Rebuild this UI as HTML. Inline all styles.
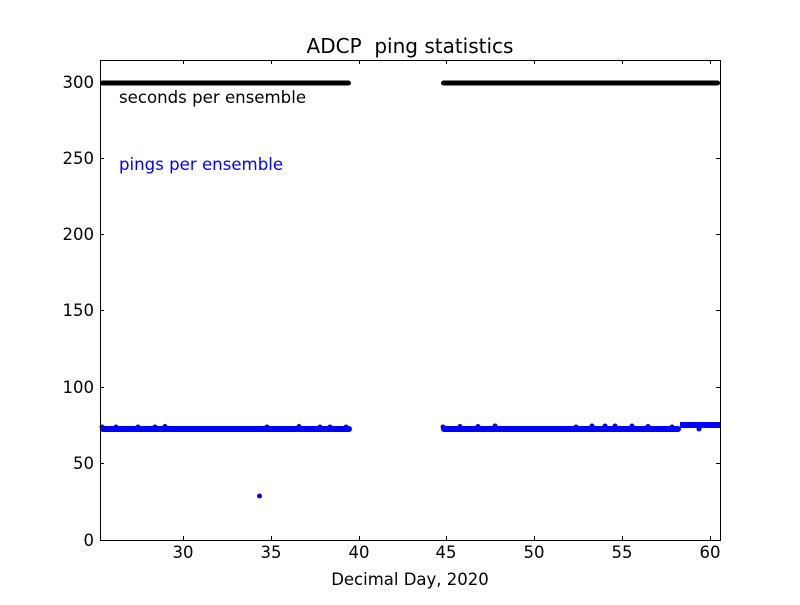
<!DOCTYPE html>
<html><head><style>body{margin:0;background:#fff}</style></head><body>
<svg width="800" height="600" xmlns="http://www.w3.org/2000/svg" font-family="DejaVu Sans, sans-serif">
<rect width="800" height="600" fill="#fff"/>
<g fill="#000">
<rect x="100" y="80.5" width="251" height="5" rx="2.5"/>
<rect x="441" y="80.5" width="279" height="5" rx="2.5"/>
</g>
<g fill="#00f">
<rect x="100" y="426" width="252" height="6" rx="3"/>
<rect x="441" y="426" width="240" height="6" rx="3"/>
<rect x="680" y="422" width="40" height="6"/>
<circle cx="259.5" cy="496" r="2.5"/>
<circle cx="102" cy="427" r="2.5"/><circle cx="116" cy="427" r="2.5"/><circle cx="138" cy="427" r="2.5"/><circle cx="155" cy="427" r="2.5"/><circle cx="165" cy="426.5" r="2.5"/><circle cx="267" cy="427" r="2.5"/><circle cx="299" cy="426.5" r="2.5"/><circle cx="320" cy="427" r="2.5"/><circle cx="330" cy="427" r="2.5"/><circle cx="346" cy="427" r="2.5"/>
<circle cx="443" cy="427" r="2.5"/><circle cx="460" cy="426.5" r="2.5"/><circle cx="478" cy="426.5" r="2.5"/><circle cx="495" cy="426" r="2.5"/><circle cx="576" cy="427" r="2.5"/><circle cx="592" cy="426" r="2.5"/><circle cx="605" cy="426" r="2.5"/><circle cx="615" cy="426" r="2.5"/><circle cx="632" cy="426" r="2.5"/><circle cx="648" cy="426.5" r="2.5"/><circle cx="672" cy="427" r="2.5"/><circle cx="699" cy="429" r="2.5"/>
</g>
<rect x="100.5" y="60.5" width="620" height="480" fill="none" stroke="#000" stroke-width="1"/>
<g stroke="#000" stroke-width="1">
<path d="M183.5 540v-4M183.5 60v4M271.5 540v-4M271.5 60v4M359.5 540v-4M359.5 60v4M446.5 540v-4M446.5 60v4M534.5 540v-4M534.5 60v4M622.5 540v-4M622.5 60v4M710.5 540v-4M710.5 60v4"/>
<path d="M100 540.5h4M720 540.5h-4M100 463.5h4M720 463.5h-4M100 387.5h4M720 387.5h-4M100 310.5h4M720 310.5h-4M100 234.5h4M720 234.5h-4M100 158.5h4M720 158.5h-4M100 82.5h4M720 82.5h-4"/>
</g>
<g font-size="16.5" fill="#000" text-anchor="middle">
<text x="183" y="558">30</text><text x="271" y="558">35</text><text x="359" y="558">40</text><text x="446" y="558">45</text><text x="534" y="558">50</text><text x="622" y="558">55</text><text x="710" y="558">60</text>
</g>
<g font-size="16.5" fill="#000" text-anchor="end">
<text x="94" y="546">0</text><text x="94" y="469">50</text><text x="94" y="393">100</text><text x="94" y="316">150</text><text x="94" y="240">200</text><text x="94" y="164">250</text><text x="94" y="88">300</text>
</g>
<text x="410" y="585" font-size="16.5" text-anchor="middle">Decimal Day, 2020</text>
<text x="410" y="53" font-size="20" text-anchor="middle" xml:space="preserve">ADCP  ping statistics</text>
<text x="119" y="103" font-size="16.6">seconds per ensemble</text>
<text x="119" y="170" font-size="16.6" fill="#00f">pings per ensemble</text>
</svg>
</body></html>
